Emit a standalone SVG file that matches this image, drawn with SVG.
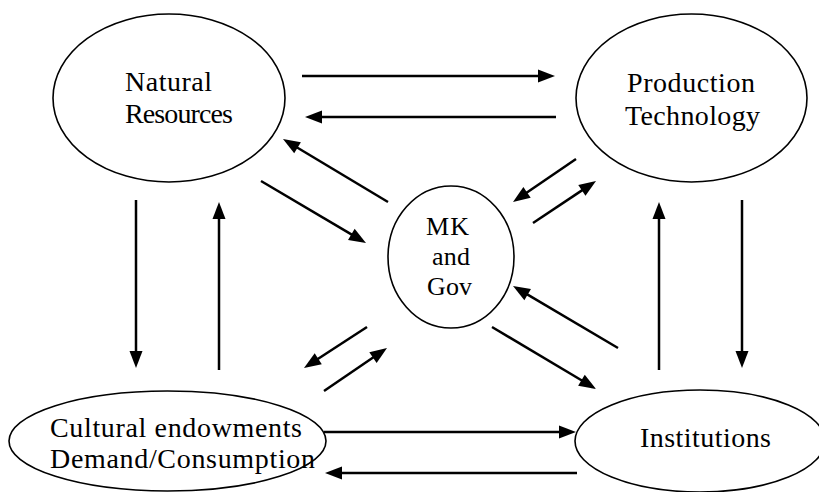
<svg xmlns="http://www.w3.org/2000/svg" width="819" height="492" viewBox="0 0 819 492">
<style>
.node ellipse{fill:#fff;stroke:#000;stroke-width:1.6}
.node text{font-family:'Liberation Serif','Times New Roman',serif;font-size:28px;fill:#000}
.node text.s{font-size:26px}
.edges line{stroke:#000;stroke-width:2.5;marker-end:url(#ah)}
</style>
<defs>
<marker id="ah" markerUnits="userSpaceOnUse" markerWidth="17" markerHeight="14" viewBox="-1 -7 17 14" refX="0" refY="0" orient="auto" overflow="visible">
<path d="M-1,-6.5 L16,0 L-1,6.5 Z" fill="#000"/>
</marker>
</defs>
<rect width="819" height="492" fill="#fff"/>
<g id="natural-resources" class="node">
<ellipse cx="169" cy="98" rx="116" ry="84"/>
<text x="125" y="91" textLength="87">Natural</text>
<text x="125" y="123" textLength="108">Resources</text>
</g>
<g id="production-technology" class="node">
<ellipse cx="691.5" cy="98" rx="115.5" ry="84"/>
<text x="627" y="92" textLength="128">Production</text>
<text x="625" y="125" textLength="135">Technology</text>
</g>
<g id="mk-gov" class="node">
<ellipse cx="451" cy="257" rx="63" ry="71"/>
<text class="s" x="426" y="235" textLength="43">MK</text>
<text class="s" x="432" y="265" textLength="38">and</text>
<text class="s" x="427" y="295" textLength="45">Gov</text>
</g>
<g id="cultural" class="node">
<ellipse cx="167.5" cy="441" rx="158.5" ry="50"/>
<text x="50" y="437" textLength="252">Cultural endowments</text>
<text x="50" y="468" textLength="265">Demand/Consumption</text>
</g>
<g id="institutions" class="node">
<ellipse cx="700" cy="441" rx="125" ry="51"/>
<text x="640" y="447" textLength="131">Institutions</text>
</g>
<g id="connectors" class="edges">
<line x1="302" y1="76" x2="539" y2="76"/>
<line x1="556" y1="117" x2="321" y2="117"/>
<line x1="388" y1="202" x2="296.7" y2="147.2"/>
<line x1="261" y1="181" x2="352.2" y2="234.9"/>
<line x1="576" y1="159" x2="526.2" y2="193"/>
<line x1="533" y1="223" x2="582.7" y2="189.9"/>
<line x1="136" y1="200" x2="136" y2="352"/>
<line x1="219" y1="370" x2="219" y2="218"/>
<line x1="742" y1="200" x2="742" y2="352"/>
<line x1="659" y1="370" x2="659" y2="218"/>
<line x1="367" y1="327" x2="317.4" y2="359.3"/>
<line x1="324" y1="391" x2="373.8" y2="357"/>
<line x1="618" y1="348" x2="526.8" y2="294.1"/>
<line x1="492" y1="327" x2="582.3" y2="380.8"/>
<line x1="324" y1="432" x2="560" y2="432"/>
<line x1="577" y1="473" x2="341" y2="473"/>
</g>
</svg>
